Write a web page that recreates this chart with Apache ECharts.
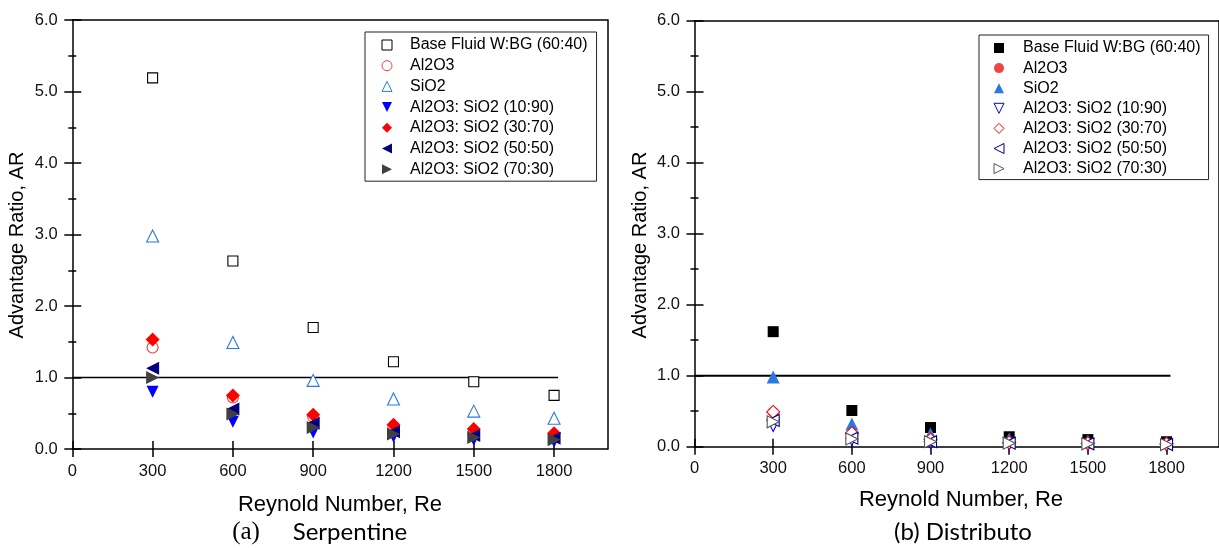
<!DOCTYPE html>
<html>
<head>
<meta charset="utf-8">
<script src="https://cdn.jsdelivr.net/npm/echarts@6/dist/echarts.min.js"></script>
<style>
  html, body { margin: 0; padding: 0; background: #fff; }
  #chart { width: 1219px; height: 548px; }
</style>
</head>
<body>
<div id="chart"></div>
<script>
// Reynolds numbers tested
const reynolds = [300, 600, 900, 1200, 1500, 1800];

// Axis ticks
const xTicks = [0, 300, 600, 900, 1200, 1500, 1800];
const yTicks = [0, 1, 2, 3, 4, 5, 6];

// Series labels
const fluidNames = [
  'Base Fluid W:BG (60:40)',
  'Al2O3',
  'SiO2',
  'Al2O3: SiO2 (10:90)',
  'Al2O3: SiO2 (30:70)',
  'Al2O3: SiO2 (50:50)',
  'Al2O3: SiO2 (70:30)'
];

// (a) Serpentine – advantage ratio
const serpBase   = [5.19, 2.63, 1.70, 1.22, 0.94, 0.75];
const serpAl2O3  = [1.42, 0.72, 0.45, 0.30, 0.24, 0.18];
const serpSiO2   = [2.98, 1.49, 0.96, 0.70, 0.53, 0.43];
const serp1090   = [0.80, 0.38, 0.23, 0.17, 0.13, 0.10];
const serp3070   = [1.53, 0.75, 0.48, 0.34, 0.28, 0.22];
const serp5050   = [1.13, 0.56, 0.36, 0.24, 0.19, 0.15];
const serp7030   = [1.00, 0.49, 0.30, 0.21, 0.16, 0.13];

// (b) Distributo – advantage ratio
const distBase   = [1.62, 0.51, 0.27, 0.14, 0.10, 0.07];
const distAl2O3  = [0.49, 0.17, 0.09, 0.06, 0.04, 0.03];
const distSiO2   = [0.98, 0.32, 0.18, 0.11, 0.08, 0.06];
const dist1090   = [0.30, 0.10, 0.06, 0.04, 0.03, 0.02];
const dist3070   = [0.49, 0.19, 0.10, 0.06, 0.05, 0.04];
const dist5050   = [0.37, 0.12, 0.07, 0.05, 0.04, 0.03];
const dist7030   = [0.35, 0.11, 0.07, 0.05, 0.04, 0.03];

// AR = 1 reference line
const refRe = [0, 1815];
const refAR = [1, 1];

const FONT = '"Liberation Sans", Arial, sans-serif';

const SYM = {
  square: 'path://M0,0 L10,0 L10,10 L0,10 Z',
  circle: 'circle',
  up: 'path://M0,10 L5,0 L10,10 Z',
  down: 'path://M0,0 L10,0 L5,10 Z',
  diamond: 'path://M5,0 L10,5 L5,10 L0,5 Z',
  left: 'path://M10,0 L10,10 L0,5 Z',
  right: 'path://M0,0 L0,10 L10,5 Z'
};

const serpStyles = [
  { sym: SYM.square,  size: 10, color: '#000000', open: true },
  { sym: SYM.circle,  size: 11, color: '#f04040', open: true },
  { sym: SYM.up,      size: 12, color: '#2a78e0', open: true },
  { sym: SYM.down,    size: 12, color: '#0000ff', open: false },
  { sym: SYM.diamond, size: 14, color: '#ff0000', open: false },
  { sym: SYM.left,    size: 13, color: '#000080', open: false },
  { sym: SYM.right,   size: 13, color: '#404040', open: false }
];
const distStyles = [
  { sym: SYM.square,  size: 11, color: '#000000', open: false },
  { sym: SYM.circle,  size: 10, color: '#ee4444', open: false },
  { sym: SYM.up,      size: 13, color: '#2a78e0', open: false },
  { sym: SYM.down,    size: 12, color: '#0000ff', open: true },
  { sym: SYM.diamond, size: 13, color: '#ff0000', open: true },
  { sym: SYM.left,    size: 12, color: '#000080', open: true },
  { sym: SYM.right,   size: 12, color: '#555555', open: true }
];

const serpValues = [serpBase, serpAl2O3, serpSiO2, serp1090, serp3070, serp5050, serp7030];
const distValues = [distBase, distAl2O3, distSiO2, dist1090, dist3070, dist5050, dist7030];

const axisLine = { color: '#000', width: 1.5 };
const tickLabel = v => String(v);

function xAxes(gridIndex, margin) {
  return [
    {
      gridIndex, type: 'value', min: 0, max: 2000, position: 'bottom',
      axisLine: { show: true, onZero: false, lineStyle: axisLine },
      axisTick: { show: true, inside: false, length: 8, customValues: xTicks, lineStyle: axisLine },
      axisLabel: { show: true, customValues: xTicks, margin, fontSize: 16.5, color: '#111',
                   fontFamily: FONT, formatter: tickLabel },
      splitLine: { show: false }
    },
    {
      gridIndex, type: 'value', min: 0, max: 2000, position: 'bottom',
      axisLine: { show: false, onZero: false },
      axisTick: { show: true, inside: true, length: 8, customValues: xTicks, lineStyle: axisLine },
      axisLabel: { show: false },
      splitLine: { show: false }
    },
    {
      gridIndex, type: 'value', min: 0, max: 2000, position: 'top',
      axisLine: { show: true, onZero: false, lineStyle: axisLine },
      axisTick: { show: false }, axisLabel: { show: false }, splitLine: { show: false }
    }
  ];
}

function yAxes(gridIndex, margin) {
  return [
    {
      gridIndex, type: 'value', min: 0, max: 6, interval: 1, position: 'left',
      axisLine: { show: true, onZero: false, lineStyle: axisLine },
      axisTick: { show: true, inside: false, length: 8, lineStyle: axisLine },
      minorTick: { show: true, splitNumber: 2, length: 4, lineStyle: axisLine },
      axisLabel: { show: true, margin, fontSize: 16.5, color: '#111', fontFamily: FONT,
                   formatter: v => (yTicks.indexOf(v) >= 0 ? v.toFixed(1) : '') },
      splitLine: { show: false }
    },
    {
      gridIndex, type: 'value', min: 0, max: 6, interval: 1, position: 'left',
      axisLine: { show: false, onZero: false },
      axisTick: { show: true, inside: true, length: 9, lineStyle: axisLine },
      minorTick: { show: true, splitNumber: 2, length: 4, lineStyle: axisLine },
      axisLabel: { show: false },
      splitLine: { show: false }
    },
    {
      gridIndex, type: 'value', min: 0, max: 6, interval: 1, position: 'right',
      axisLine: { show: true, onZero: false, lineStyle: axisLine },
      axisTick: { show: false }, axisLabel: { show: false }, splitLine: { show: false }
    }
  ];
}

function scatterSeries(panel, values, styles, axisIndex) {
  return values.map((vals, i) => {
    const s = styles[i];
    return {
      name: panel + '|' + fluidNames[i],
      type: 'scatter',
      xAxisIndex: axisIndex,
      yAxisIndex: axisIndex,
      symbol: s.sym,
      symbolSize: s.size,
      symbolKeepAspect: true,
      z: 3,
      itemStyle: s.open
        ? { color: '#ffffff', borderColor: s.color, borderWidth: 1.1, opacity: 1 }
        : { color: s.color, borderWidth: 0, opacity: 1 },
      data: reynolds.map((r, k) => [r, vals[k]])
    };
  });
}

function refLine(axisIndex, width) {
  return {
    type: 'line', xAxisIndex: axisIndex, yAxisIndex: axisIndex,
    symbol: 'none', silent: true, z: 1,
    lineStyle: { color: '#000', width },
    data: refRe.map((r, k) => [r, refAR[k]])
  };
}

function legend(panel, styles, left, top, padding, gap, textPad) {
  return {
    orient: 'vertical', left, top, padding,
    itemWidth: 11, itemHeight: 10, itemGap: gap,
    symbolKeepAspect: true,
    borderColor: '#222', borderWidth: 1, backgroundColor: '#fff',
    selectedMode: false,
    textStyle: { fontSize: 16, fontFamily: FONT, color: '#000', padding: [0, 0, 0, textPad] },
    formatter: n => n.split('|')[1],
    data: fluidNames.map((n, i) => ({
      name: panel + '|' + n,
      itemStyle: { borderWidth: styles[i].open ? 1 : 0 }
    }))
  };
}

function txt(text, x, y, size, opts) {
  return Object.assign({
    type: 'text', x, y,
    style: { text, fontSize: size, fontFamily: FONT, fill: '#000', align: 'center', verticalAlign: 'middle' }
  }, opts || {});
}

const option = {
  animation: false,
  backgroundColor: '#fff',
  grid: [
    { left: 72.3, top: 20, width: 535.3, height: 429 },
    { left: 694.5, top: 20.7, width: 531, height: 426 }
  ],
  xAxis: xAxes(0, 14).concat(xAxes(1, 13)),
  yAxis: yAxes(0, 14.5).concat(yAxes(1, 14.5)),
  legend: [
    legend('a', serpStyles, 365, 32, [5, 9, 4, 16.5], 4.7, 12.5),
    legend('b', distStyles, 979, 35, [5, 8, 3, 14.5], 4.1, 13.5)
  ],
  series: [refLine(0, 1.5), refLine(3, 2)]
    .concat(scatterSeries('a', serpValues, serpStyles, 0))
    .concat(scatterSeries('b', distValues, distStyles, 3)),
  graphic: [
    txt('Advantage Ratio, AR', 17, 245, 20, { rotation: Math.PI / 2 }),
    txt('Advantage Ratio, AR', 640, 245, 20, { rotation: Math.PI / 2 }),
    txt('Reynold Number, Re', 340, 505, 22),
    txt('Reynold Number, Re', 961, 500, 22),
    {
      type: 'text', x: 246, y: 532,
      style: { text: '(a)', fontSize: 25, fontFamily: '"Liberation Serif", "Times New Roman", serif',
               fill: '#000', align: 'center', verticalAlign: 'middle' }
    },
    {
      type: 'text', x: 350, y: 532,
      style: { text: 'Serpentine', fontSize: 24, fontFamily: 'Lato, "Open Sans", sans-serif',
               fill: '#000', align: 'center', verticalAlign: 'middle' }
    },
    {
      type: 'text', x: 963, y: 532,
      style: { text: '(b) Distributo', fontSize: 24, fontFamily: 'Lato, "Open Sans", sans-serif',
               fill: '#000', align: 'center', verticalAlign: 'middle' }
    }
  ]
};

const chart = echarts.init(document.getElementById('chart'), null, { renderer: 'canvas' });
chart.setOption(option);
</script>
</body>
</html>
